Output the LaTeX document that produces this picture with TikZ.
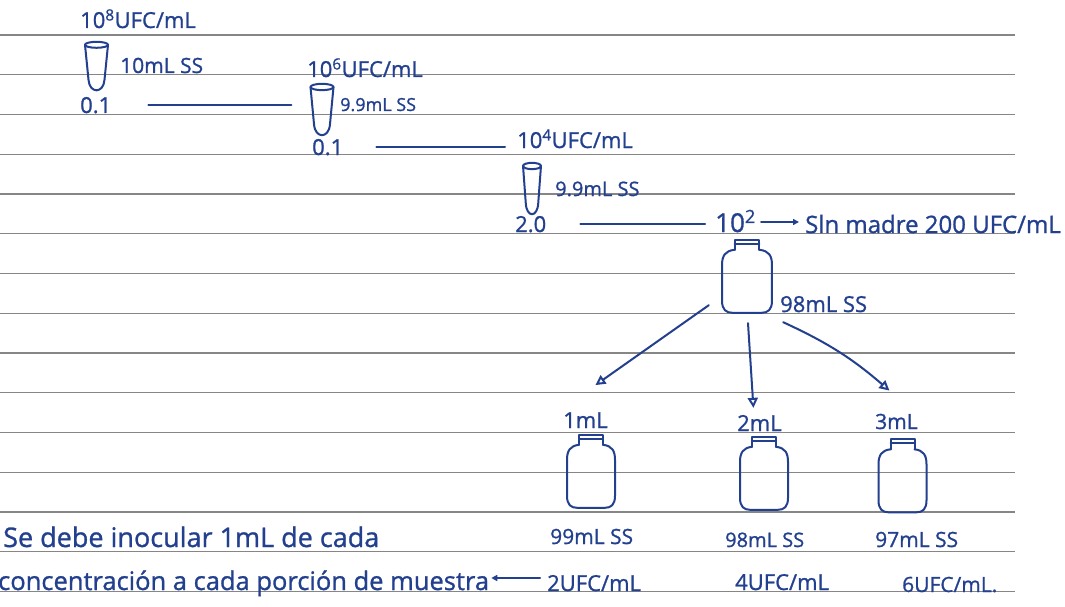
\documentclass[tikz,border=0pt]{standalone}
\usepackage{fontspec}
\setmainfont{Open Sans}[FakeBold=1]
\usetikzlibrary{arrows.meta,calc}
\definecolor{ink}{HTML}{23408F}
\definecolor{ruling}{HTML}{868686}
\newcommand\inkfont[1]{\fontsize{#1}{#1}\selectfont}
\begin{document}
\begin{tikzpicture}[x=1pt,y=-1pt,
  hw/.style={text=ink, inner sep=0pt, anchor=base west, font=\inkfont{22}},
  holder/.style={inner sep=0pt, draw=none},
  pen/.style={draw=ink, line width=2pt, line cap=round, line join=round},
  tip/.style={-{Triangle[open,length=10pt,width=10pt]}},
  smalltip/.style={-{Triangle[length=6pt,width=6pt]}},
  ruleline/.style={draw=ruling, line width=1.2pt},
  tube/.pic={
    \draw[pen] (0,3) ellipse [x radius=11.5, y radius=3];
    \draw[pen] (-11.5,3) -- (-8,38) .. controls (-7,52) and (7,52) .. (8,38) -- (11.5,3);
  },
  bottle/.pic={
    \draw[pen] (-12,10) -- (-12,0) -- (12,0) -- (12,10);
    \draw[pen] (-12,4) -- (12,4);
    \draw[pen] (-12,10) .. controls (-21,11) and (-24,16) .. (-24,25) -- (-24,61)
      .. controls (-24,70) and (-20,73) .. (-14,73) -- (14,73)
      .. controls (20,73) and (24,70) .. (24,61) -- (24,25)
      .. controls (24,16) and (21,11) .. (12,10);
  }
]
\useasboundingbox (0,0) rectangle (1065,607);
\fill[white] (0,0) rectangle (1065,607);

% notebook ruling
\foreach \k in {0,...,14}
  \draw[ruleline] (0,{35+39.75*\k}) -- (1015,{35+39.75*\k});

% first dilution
\node[hw] (a0) at (80,28) {10\textsuperscript{8}UFC/mL};
\node[holder, minimum width=23, minimum height=50] (t1) at (96.5,67) {};
\pic at (t1.north) {tube};
\node[hw, font=\inkfont{21}] (a1) at (120,73) {10mL SS};
\node[hw] (a2) at (80,113) {0.1};

% second dilution
\node[hw] (b0) at (307,77) {10\textsuperscript{6}UFC/mL};
\node[holder, minimum width=23, minimum height=53] (t2) at (322,110.5) {};
\pic[yscale=1.06] at (t2.north) {tube};
\node[hw, font=\inkfont{18}] (b1) at (340,111) {9.9mL SS};
\node[hw] (b2) at (312,155) {0.1};

% third dilution
\node[hw] (c0) at (517,148) {10\textsuperscript{4}UFC/mL};
\node[holder, minimum width=18, minimum height=53] (t3) at (532,189.5) {};
\pic[xscale=0.78, yscale=1.06] at (t3.north) {tube};
\node[hw, font=\inkfont{20}] (c1) at (555,196) {9.9mL SS};
\node[hw] (c2) at (515,232) {2.0};

% stock solution
\node[hw, font=\inkfont{26}] (d0) at (715,232) {10\textsuperscript{2}};
\node[hw, font=\inkfont{24}] (d1) at (805,233) {Sln madre 200 UFC/mL};
\node[holder, minimum width=50, minimum height=73] (m0) at (747,276.5) {};
\pic[xscale=1.04] at (m0.north) {bottle};
\node[hw] (d2) at (780,312) {98mL SS};

% portions
\node[hw] (n1) at (563,428) {1mL};
\node[hw] (n2) at (737,431) {2mL};
\node[hw, font=\inkfont{21}] (n3) at (875,429) {3mL};
\node[holder, minimum width=48, minimum height=73] (k1) at (591,471.5) {};
\pic at (k1.north) {bottle};
\node[holder, minimum width=48, minimum height=73] (k2) at (764,473.5) {};
\pic at (k2.north) {bottle};
\node[holder, minimum width=48, minimum height=73] (k3) at (902.5,476) {};
\pic at (k3.north) {bottle};
\node[hw, font=\inkfont{21}] (s1) at (550,544) {99mL SS};
\node[hw, font=\inkfont{20}] (s2) at (725,547) {98mL SS};
\node[hw, font=\inkfont{21}] (s3) at (875,547) {97mL SS};
\node[hw] (u1) at (547,591) {2UFC/mL};
\node[hw] (u2) at (735,590) {4UFC/mL};
\node[hw, font=\inkfont{21}] (u3) at (902,592) {6UFC/mL.};

% note
\node[hw, font=\inkfont{27}] (w1) at (3,547) {Se debe inocular 1mL de cada};
\node[hw, font=\inkfont{25.5}] (w2) at (-2,590) {concentración a cada porción de muestra};

% connectors
\draw[pen] ($(a2.east)+(37,0)$) -- ($(a2.east -| t2.west)+(-19,0)$);
\draw[pen] ($(b2.east)+(33,0)$) -- ($(b2.east -| c0.west)+(-12,0)$);
\draw[pen] ($(c2.east)+(34,0)$) -- ($(c2.east -| d0.west)+(-10,0)$);
\draw[pen, smalltip] ($(d0.base east)+(5,-10)$) -- ($(d0.base east -| d1.west)+(-6,-10)$);
\draw[pen, tip] ($(m0.south west)+(-13,-8)$) -- ($(n1.north)+(10,-27)$);
\draw[pen, tip] ($(m0.south)+(1,10)$) -- ($(n2.north)+(-6,-7)$);
\draw[pen, tip] ($(m0.south east)+(11,9)$) to[bend left=8] ($(n3.north)+(-7,-23)$);
\draw[pen, smalltip] ($(u1.base west)+(-7,-13)$) -- ($(u1.base west -| w2.east)+(2,-13)$);
\end{tikzpicture}
\end{document}
